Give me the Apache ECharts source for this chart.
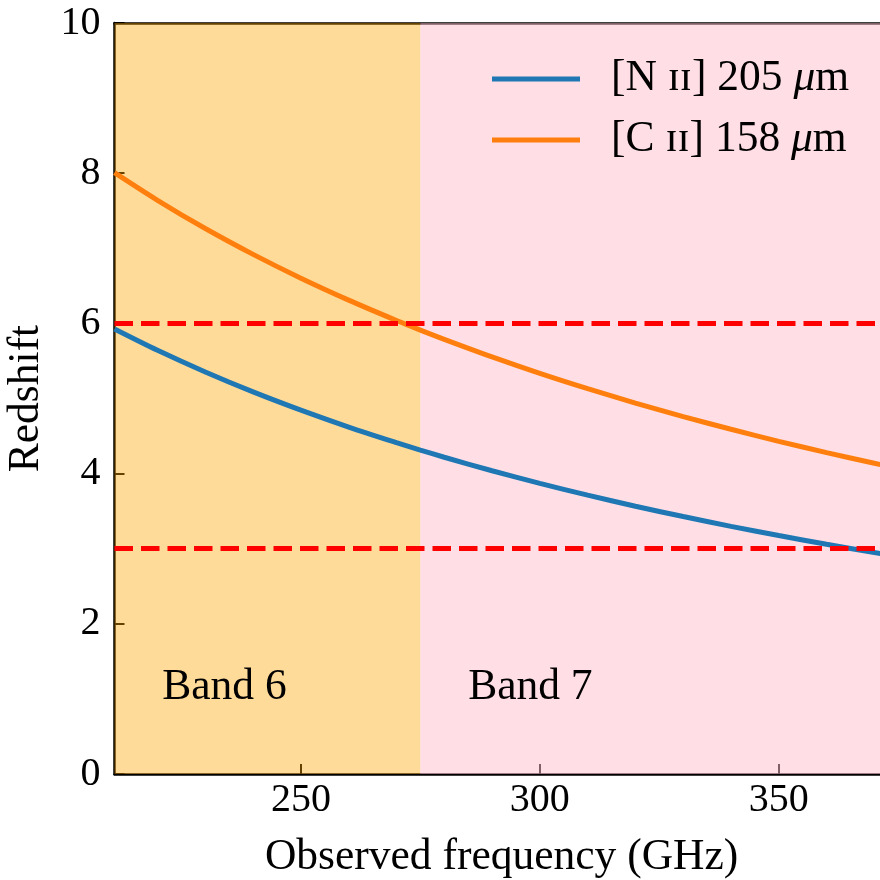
<!DOCTYPE html>
<html>
<head>
<meta charset="utf-8">
<script src="https://cdn.jsdelivr.net/npm/echarts@6/dist/echarts.min.js"></script>
<style>html,body{margin:0;padding:0;background:#fff}#c{width:880px;height:880px}</style>
</head>
<body>
<div id="c"></div>
<script>
// Observed frequency (GHz)
var freqs = [211, 220, 230, 240, 250, 260, 270, 275, 280, 290, 300, 310, 320, 330, 340, 350, 360, 370, 373];
// Redshift of [N II] 205 um
var nii = [5.925, 5.641, 5.353, 5.088, 4.845, 4.620, 4.412, 4.313, 4.218, 4.038, 3.870, 3.713, 3.566, 3.428, 3.297, 3.175, 3.059, 2.949, 2.917];
// Redshift of [C II] 158 um
var cii = [8.007, 7.639, 7.263, 6.919, 6.602, 6.310, 6.039, 5.911, 5.788, 5.554, 5.335, 5.131, 4.939, 4.759, 4.590, 4.430, 4.279, 4.137, 4.095];
var xTicks = [250, 300, 350];
var bands = [{name: 'Band 6', from: 211, to: 275}, {name: 'Band 7', from: 275, to: 373}];
var bandLabelPos = [[221, 1], [285, 1]];
var refZ = [6, 3];

var FONT = 'Liberation Serif';
var WORD = 43.5;
function pairs(xs, ys) { return xs.map(function (x, i) { return [x, ys[i]]; }); }

var chart = echarts.init(document.getElementById('c'), null, {renderer: 'canvas'});
var option = {
  backgroundColor: '#fff',
  animation: false,
  textStyle: {fontFamily: FONT},
  grid: {left: 114.5, top: 23, right: -8.7, bottom: 106, show: false, containLabel: false, outerBoundsMode: 'none'},
  legend: {
    data: ['nii', 'cii'],
    orient: 'vertical',
    left: 487, top: 52,
    itemWidth: 88, itemHeight: 5, itemGap: 17,
    icon: 'rect',
    formatter: function (n) {
      return n === 'nii' ? '{a|[N ɪɪ] 205 }{it|μ}{a|m}' : '{a|[C ɪɪ] 158 }{it|μ}{a|m}';
    },
    textStyle: {
      fontFamily: FONT, fontSize: WORD, color: '#000', padding: [0, 0, 0, 26],
      rich: {
        a: {fontFamily: FONT, fontSize: WORD, color: '#000'},
        it: {fontFamily: FONT, fontSize: WORD, fontStyle: 'italic', color: '#000'}
      }
    }
  },
  xAxis: [{
    type: 'value', min: 211, max: 373,
    axisLine: {show: true, onZero: false, lineStyle: {color: '#000', width: 2.5}},
    axisTick: {show: true, inside: true, length: 10, lineStyle: {color: '#000', width: 2}, customValues: xTicks},
    axisLabel: {show: true, fontFamily: FONT, fontSize: 40, color: '#000', margin: 6, customValues: xTicks},
    splitLine: {show: false},
    name: 'Observed frequency (GHz)', nameLocation: 'middle', nameGap: 62,
    nameTextStyle: {fontFamily: FONT, fontSize: WORD, color: '#000'}
  }, {
    type: 'value', min: 211, max: 373, position: 'top',
    axisLine: {show: true, onZero: false, lineStyle: {color: '#000', width: 2.5}},
    axisTick: {show: false}, axisLabel: {show: false}, splitLine: {show: false}
  }],
  yAxis: [{
    type: 'value', min: 0, max: 10, interval: 2,
    axisLine: {show: true, onZero: false, lineStyle: {color: '#000', width: 2.5}},
    axisTick: {show: true, inside: true, length: 10, lineStyle: {color: '#000', width: 2}},
    axisLabel: {show: true, fontFamily: FONT, fontSize: 40, color: '#000', margin: 14},
    splitLine: {show: false},
    name: 'Redshift', nameLocation: 'middle', nameGap: 66,
    nameTextStyle: {fontFamily: FONT, fontSize: WORD, color: '#000'}
  }],
  series: [
    {
      type: 'line', name: 'bands', data: [], z: 1, silent: true,
      markArea: {
        silent: true,
        data: [
          [{xAxis: bands[0].from, itemStyle: {color: 'rgba(255,165,0,0.4)'}}, {xAxis: bands[0].to}],
          [{xAxis: bands[1].from, itemStyle: {color: 'rgba(255,192,203,0.5)'}}, {xAxis: bands[1].to}]
        ]
      }
    },
    {
      type: 'scatter', name: 'bandlabels', z: 2, silent: true, symbolSize: 0,
      itemStyle: {opacity: 1},
      data: bandLabelPos.map(function (p, i) { return {value: p, name: bands[i].name}; }),
      label: {show: true, position: [0, 0], align: 'left', verticalAlign: 'bottom', offset: [0, 11],
        formatter: '{b}', fontFamily: FONT, fontSize: WORD, color: '#000', opacity: 1, textBorderWidth: 0}
    },
    {
      type: 'line', name: 'nii', data: pairs(freqs, nii), showSymbol: false, symbol: 'none',
      smooth: 0.3, z: 3, color: '#1f77b4', lineStyle: {color: '#1f77b4', width: 5}
    },
    {
      type: 'line', name: 'cii', data: pairs(freqs, cii), showSymbol: false, symbol: 'none',
      smooth: 0.3, z: 3, color: '#ff7f0e', lineStyle: {color: '#ff7f0e', width: 5}
    },
    {
      type: 'line', name: 'ref', data: [], z: 4, silent: true,
      markLine: {
        silent: true, symbol: 'none', label: {show: false},
        lineStyle: {color: '#ff0000', width: 5, type: [18.5, 8], dashOffset: 0},
        data: refZ.map(function (v) { return {yAxis: v}; })
      }
    }
  ]
};
chart.setOption(option);
</script>
</body>
</html>
